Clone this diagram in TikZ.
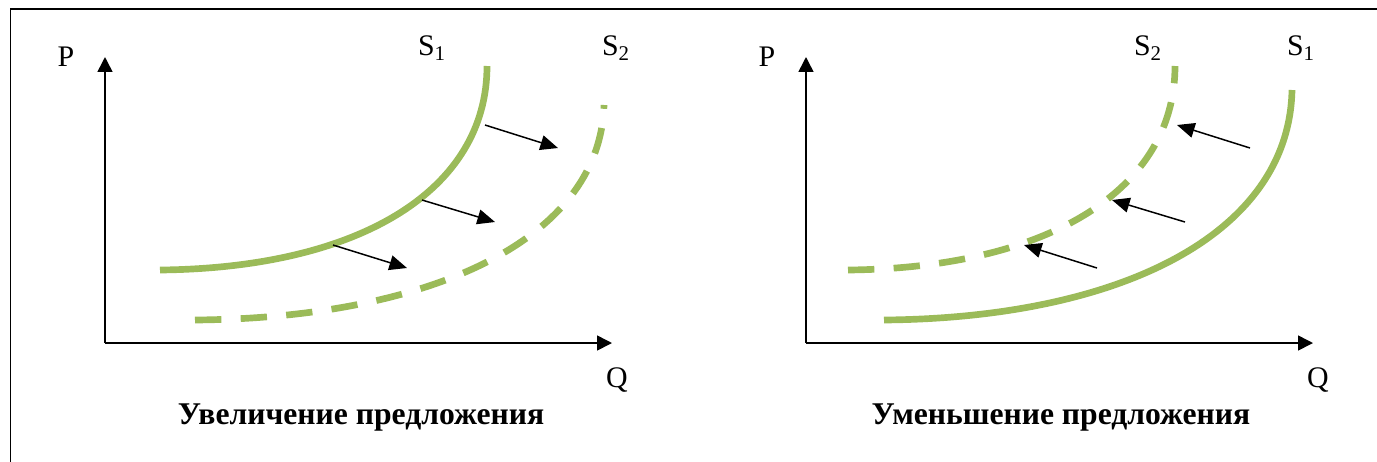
\documentclass[tikz,border=0pt]{standalone}
\usepackage{fontspec}
\setmainfont{Liberation Serif}
\usepackage{xcolor}
\usetikzlibrary{arrows.meta}
\definecolor{supGreen}{HTML}{9BBB59}

\begin{document}
\begin{tikzpicture}[
  x=0.02cm, y=-0.02cm,
  font=\fontsize{17}{20}\selectfont,
  axis/.style={line width=0.9pt, -{Triangle[length=8.5pt, width=8.5pt]}},
  moveArrow/.style={line width=0.85pt, -{Triangle[length=10pt, width=8.5pt]}},
  supply/.style={line width=3.8pt, supGreen},
  moved/.style={supply, dash pattern=on 15pt off 11pt},
  lbl/.style={inner sep=0pt},
  ttl/.style={inner sep=0pt, font=\fontsize{18}{21}\selectfont\bfseries},
]
\useasboundingbox (0,0) rectangle (1377,461);
\clip (0,0) rectangle (1377,461);
\draw[line width=1.1pt] (10.5,9) rectangle (1420,500);

% left: increase
\coordinate (oL) at (105,343);
\coordinate (yL) at (105,57);
\coordinate (xL) at (612,343);
\draw[axis] (oL) -- (yL);
\draw[axis] (oL) -- (xL);
\node[lbl] (pL) at (66,57) {P};
\node[lbl] (qL) at (617,380) {Q};
\node[lbl] (s1L) at (432,48) {S\textsubscript{1}};
\node[lbl] (s2L) at (616,48) {S\textsubscript{2}};
\draw[supply] (160,270) .. controls (360,268) and (487,190) .. (487,66);
\draw[moved] (195,320) .. controls (430,318) and (600,240) .. (604,105);
\foreach \i/\xa/\ya/\xb/\yb in {1/485/125/558/148, 2/422/200/495/222, 3/333/245/407/268} {
  \coordinate (la\i) at (\xa,\ya);
  \coordinate (lb\i) at (\xb,\yb);
  \draw[moveArrow] (la\i) -- (lb\i);
}
\node[ttl] (tL) at (361,418) {Увеличение предложения};

% right: decrease
\coordinate (oR) at (806,343);
\coordinate (yR) at (806,57);
\coordinate (xR) at (1313,343);
\draw[axis] (oR) -- (yR);
\draw[axis] (oR) -- (xR);
\node[lbl] (pR) at (767,57) {P};
\node[lbl] (qR) at (1318,380) {Q};
\node[lbl] (s2R) at (1148,48) {S\textsubscript{2}};
\node[lbl] (s1R) at (1301,48) {S\textsubscript{1}};
\draw[moved] (848,270) .. controls (1048,268) and (1175,190) .. (1175,66);
\draw[supply] (884,320) .. controls (1119,318) and (1289,235) .. (1292,90);
\foreach \i/\xa/\ya/\xb/\yb in {1/1250/148/1177/125, 2/1185/222/1112/200, 3/1097/268/1024/245} {
  \coordinate (ra\i) at (\xa,\ya);
  \coordinate (rb\i) at (\xb,\yb);
  \draw[moveArrow] (ra\i) -- (rb\i);
}
\node[ttl] (tR) at (1061,418) {Уменьшение предложения};
\end{tikzpicture}
\end{document}
